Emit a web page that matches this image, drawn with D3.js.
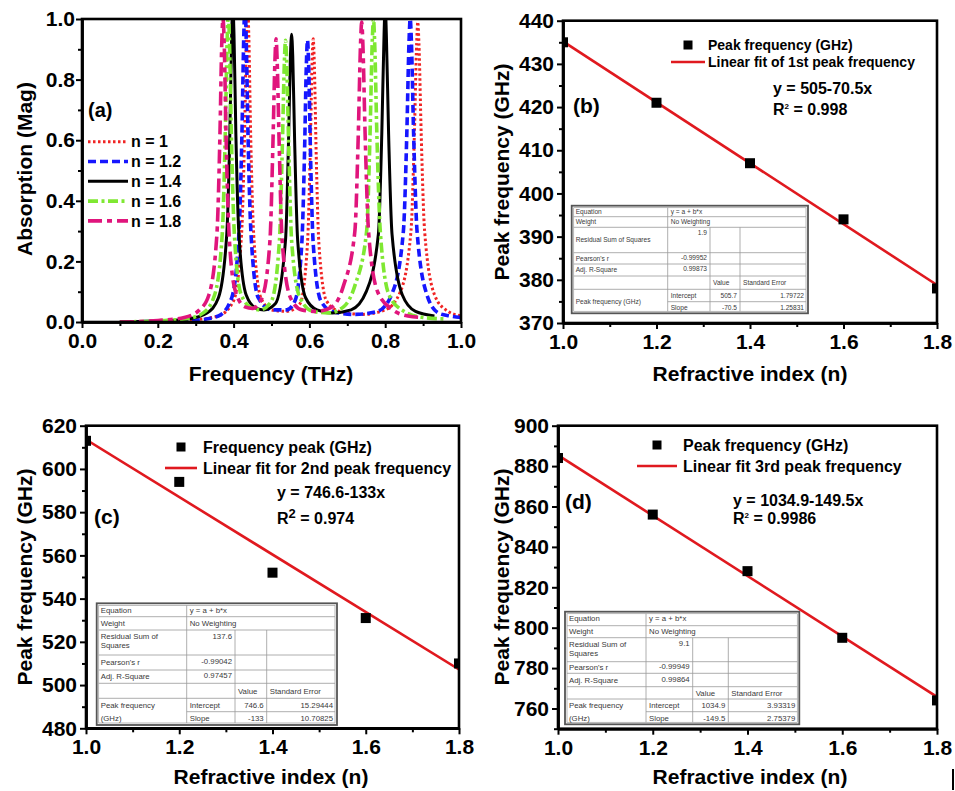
<!DOCTYPE html>
<html lang="en">
<head>
<meta charset="UTF-8">
<title>Absorption and peak frequency vs refractive index</title>
<script src="https://cdn.jsdelivr.net/npm/d3@7"></script>
<style>
    body {margin: 0; background: #fff;}
    svg {font-family: "Liberation Sans", Arial, sans-serif;}
    .axis path, .axis line {stroke: #000;}
    .axis path {stroke-width: 2.5;}
    .axis line {stroke-width: 2;}
    .axis text {font-size: 21px; font-weight: bold; fill: #000; font-family: "Liberation Sans", Arial, sans-serif;}
    .title {font-size: 21px; font-weight: bold; fill: #000;}
    .tbl text {fill: #3a3a3a;}
</style>
</head>
<body>
<script>
    // ---------- panel (a): absorption spectra, [frequency (THz), absorption] ----------
    const specN10 = [[0.10,0.0],[0.20,0.003],[0.30,0.008],[0.36,0.02],[0.40,0.07],[0.421,0.29],[0.429,0.62],[0.434,0.95],[0.437,1.05],[0.440,0.95],[0.445,0.62],[0.453,0.29],[0.472,0.08],[0.50,0.04],[0.54,0.035],[0.575,0.06],[0.595,0.26],[0.602,0.55],[0.607,0.85],[0.610,0.935],[0.613,0.85],[0.618,0.55],[0.625,0.26],[0.645,0.07],[0.68,0.035],[0.74,0.025],[0.80,0.04],[0.84,0.1],[0.868,0.3],[0.877,0.62],[0.883,0.92],[0.886,0.99],[0.889,0.92],[0.895,0.62],[0.904,0.3],[0.93,0.09],[0.96,0.04],[1.0,0.02]];
    const specN12 = [[0.10,0.0],[0.20,0.002],[0.30,0.006],[0.36,0.02],[0.395,0.08],[0.414,0.29],[0.422,0.62],[0.427,0.95],[0.430,1.05],[0.433,0.95],[0.438,0.62],[0.446,0.29],[0.465,0.08],[0.50,0.04],[0.54,0.04],[0.562,0.07],[0.580,0.26],[0.587,0.55],[0.592,0.85],[0.595,0.93],[0.598,0.85],[0.603,0.55],[0.610,0.26],[0.63,0.07],[0.66,0.035],[0.72,0.025],[0.78,0.035],[0.82,0.1],[0.848,0.3],[0.857,0.62],[0.863,0.93],[0.866,1.0],[0.869,0.93],[0.875,0.62],[0.884,0.3],[0.91,0.09],[0.94,0.03],[0.97,0.02],[1.0,0.015]];
    const specN14 = [[0.10,0.0],[0.20,0.003],[0.28,0.01],[0.33,0.03],[0.36,0.08],[0.382,0.29],[0.390,0.62],[0.395,0.95],[0.398,1.05],[0.401,0.95],[0.406,0.62],[0.414,0.29],[0.433,0.09],[0.46,0.045],[0.48,0.04],[0.51,0.06],[0.537,0.27],[0.545,0.6],[0.550,0.88],[0.553,0.95],[0.556,0.88],[0.561,0.6],[0.569,0.27],[0.59,0.08],[0.62,0.04],[0.66,0.03],[0.71,0.04],[0.75,0.1],[0.782,0.29],[0.791,0.62],[0.797,0.95],[0.800,1.05],[0.803,0.95],[0.809,0.62],[0.818,0.29],[0.845,0.09],[0.88,0.035],[0.93,0.02]];
    const specN16 = [[0.10,0.0],[0.20,0.004],[0.28,0.012],[0.32,0.03],[0.35,0.09],[0.370,0.29],[0.378,0.62],[0.383,0.93],[0.386,1.02],[0.389,0.93],[0.394,0.62],[0.402,0.29],[0.42,0.09],[0.45,0.045],[0.47,0.04],[0.50,0.07],[0.521,0.27],[0.529,0.6],[0.534,0.86],[0.537,0.93],[0.540,0.86],[0.545,0.6],[0.553,0.27],[0.575,0.08],[0.61,0.035],[0.65,0.03],[0.69,0.05],[0.72,0.12],[0.751,0.3],[0.760,0.62],[0.766,0.93],[0.769,1.0],[0.772,0.93],[0.778,0.62],[0.787,0.3],[0.81,0.09],[0.85,0.035],[0.90,0.015],[0.96,0.01]];
    const specN18 = [[0.10,0.0],[0.20,0.005],[0.27,0.015],[0.31,0.04],[0.335,0.09],[0.356,0.29],[0.364,0.62],[0.369,0.93],[0.372,1.0],[0.375,0.93],[0.380,0.62],[0.388,0.29],[0.405,0.1],[0.43,0.05],[0.45,0.045],[0.475,0.08],[0.496,0.27],[0.504,0.6],[0.509,0.86],[0.512,0.935],[0.515,0.86],[0.520,0.6],[0.528,0.27],[0.55,0.08],[0.58,0.04],[0.62,0.035],[0.66,0.05],[0.69,0.12],[0.720,0.3],[0.729,0.62],[0.735,0.92],[0.738,0.99],[0.741,0.92],[0.747,0.62],[0.756,0.3],[0.78,0.1],[0.82,0.04],[0.86,0.02],[0.90,0.015]];
    const spectra = [specN10, specN12, specN14, specN16, specN18];
    const specNames = ["n = 1", "n = 1.2", "n = 1.4", "n = 1.6", "n = 1.8"];
    const specColors = ["#f02424", "#1616ff", "#000000", "#7fe832", "#e0157c"];
    const specDash = ["2.5,2.5", "8,4", null, "10,3.5,3,3.5", "14,5,5,5"];
    const specWidth = [3, 3.6, 3, 3.6, 3.6];
    const unitTicks = [0, 0.2, 0.4, 0.6, 0.8, 1.0];
    const unitMinor = [0.1, 0.3, 0.5, 0.7, 0.9];

    // ---------- panels (b)-(d): peak frequency (GHz) vs refractive index ----------
    const refIndex = [1.0, 1.2, 1.4, 1.6, 1.8];
    const nTicks = [1.0, 1.2, 1.4, 1.6, 1.8];
    const nMinor = [1.1, 1.3, 1.5, 1.7];
    const peak1 = [435, 421, 407, 394, 378];
    const peak2 = [613, 594, 552, 531, 510];
    const peak3 = [884, 856, 828, 795, 764];
    const fitIntercept = [505.7, 746.6, 1034.9];
    const fitSlope = [-70.5, -133, -149.5];
    const tblB = ["1.9", "-0.99952", "0.99873", "505.7", "1.79722", "-70.5", "1.25831"];
    const tblC = ["137.6", "-0.99042", "0.97457", "746.6", "15.29444", "-133", "10.70825"];
    const tblD = ["9.1", "-0.99949", "0.99864", "1034.9", "3.93319", "-149.5", "2.75379"];

    const width = 955, height = 791;
    const svg = d3.select("body").append("svg").attr("width", width).attr("height", height);
    const defs = svg.append("defs");
    const fmt1 = d3.format(".1f");

    function axes(g, x, y, xt, xm, yt, ym, fx, fy, ypad) {
        const [x0, x1] = x.range(), [y1, y0] = y.range();
        g.append("g").attr("class", "axis").attr("transform", `translate(0,${y1})`)
            .call(d3.axisBottom(x).tickValues(xm).tickSize(4).tickSizeOuter(0).tickFormat(""));
        g.append("g").attr("class", "axis").attr("transform", `translate(0,${y1})`)
            .call(d3.axisBottom(x).tickValues(xt).tickSize(6).tickSizeOuter(0).tickPadding(5).tickFormat(fx));
        g.append("g").attr("class", "axis").attr("transform", `translate(${x0},0)`)
            .call(d3.axisLeft(y).tickValues(ym).tickSize(4).tickSizeOuter(0).tickFormat(""));
        g.append("g").attr("class", "axis").attr("transform", `translate(${x0},0)`)
            .call(d3.axisLeft(y).tickValues(yt).tickSize(6).tickSizeOuter(0).tickPadding(ypad).tickFormat(fy));
        g.append("rect").attr("x", x0).attr("y", y0).attr("width", x1 - x0).attr("height", y1 - y0)
            .attr("fill", "none").attr("stroke", "#000").attr("stroke-width", 2.6);
    }

    function clip(id, x, y) {
        const [x0, x1] = x.range(), [y1, y0] = y.range();
        defs.append("clipPath").attr("id", id).append("rect")
            .attr("x", x0).attr("y", y0).attr("width", x1 - x0).attr("height", y1 - y0);
        return `url(#${id})`;
    }

    function text(g, x, y, s, size, weight, anchor) {
        return g.append("text").attr("x", x).attr("y", y).attr("dy", "0.35em")
            .attr("font-size", size).attr("font-weight", weight || "bold")
            .attr("text-anchor", anchor || "start").text(s);
    }

    function vtitle(g, cx, cy, s, size) {
        g.append("text").attr("class", "title").attr("font-size", size)
            .attr("transform", `translate(${cx},${cy}) rotate(-90)`)
            .attr("text-anchor", "middle").attr("dy", "0.35em").text(s);
    }

    // ---------- panel (a) ----------
    {
        const g = svg.append("g");
        const x = d3.scaleLinear().domain([0, 1]).range([82, 461]);
        const y = d3.scaleLinear().domain([0, 1]).range([322, 19]);
        const cp = clip("clipA", x, y);
        const line = d3.line().x(d => x(d[0])).y(d => y(d[1])).curve(d3.curveMonotoneX);
        spectra.forEach((s, i) => {
            g.append("path").datum(s).attr("d", line).attr("clip-path", cp)
                .attr("fill", "none").attr("stroke", specColors[i]).attr("stroke-width", specWidth[i])
                .attr("stroke-dasharray", specDash[i]);
        });
        axes(g, x, y, unitTicks, unitMinor, unitTicks, unitMinor, fmt1, fmt1, 1);
        text(g, 88, 110, "(a)", 20);
        specNames.forEach((nm, i) => {
            const ly = 141.7 + 19.8 * i;
            g.append("line").attr("x1", 88).attr("x2", 128).attr("y1", ly).attr("y2", ly)
                .attr("stroke", specColors[i]).attr("stroke-width", specWidth[i])
                .attr("stroke-dasharray", specDash[i]);
            text(g, 131, ly, nm, 16);
        });
        g.append("text").attr("class", "title").attr("x", 271).attr("y", 381)
            .attr("text-anchor", "middle").text("Frequency (THz)");
        vtitle(g, 25, 169, "Absorption (Mag)", 21);
    }

    // ---------- table of fit results ----------
    function table(g, xs, ys, v, fs, wrap) {
        const t = g.append("g").attr("class", "tbl").attr("font-size", fs);
        t.append("rect").attr("x", xs[0]).attr("y", ys[0]).attr("width", xs[4] - xs[0]).attr("height", ys[8] - ys[0])
            .attr("fill", "#fff").attr("stroke", "#555").attr("stroke-width", 1.8);
        t.append("rect").attr("x", xs[0] + 2).attr("y", ys[0] + 2).attr("width", xs[4] - xs[0] - 4).attr("height", ys[8] - ys[0] - 4)
            .attr("fill", "none").attr("stroke", "#999").attr("stroke-width", 0.7);
        const ln = (a, b, c, d) => t.append("line").attr("x1", a).attr("y1", b).attr("x2", c).attr("y2", d)
            .attr("stroke", "#999").attr("stroke-width", 0.8);
        for (let r = 1; r < 8; r++) ln(r === 7 ? xs[1] : xs[0] + 2, ys[r], xs[4] - 2, ys[r]);
        ln(xs[1], ys[0] + 2, xs[1], ys[8] - 2);
        ln(xs[2], ys[2], xs[2], ys[8] - 2);
        ln(xs[3], ys[2], xs[3], ys[8] - 2);
        const mid = r => (ys[r] + ys[r + 1]) / 2;
        const tx = (x, yy, s, anchor) => t.append("text").attr("x", x).attr("y", yy).attr("dy", "0.35em")
            .attr("text-anchor", anchor || "start").text(s);
        const L = xs[0] + 4;
        tx(L, mid(0), "Equation"); tx(xs[1] + 3, mid(0), "y = a + b*x");
        tx(L, mid(1), "Weight"); tx(xs[1] + 3, mid(1), "No Weighting");
        if (wrap) {
            tx(L, ys[2] + fs * 0.8, "Residual Sum of"); tx(L, ys[2] + fs * 2.0, "Squares");
        } else {
            tx(L, mid(2), "Residual Sum of Squares");
        }
        tx(xs[2] - 3, ys[2] + fs * 0.75, v[0], "end");
        tx(L, mid(3), "Pearson's r"); tx(xs[2] - 3, mid(3) - 1, v[1], "end");
        tx(L, mid(4), "Adj. R-Square"); tx(xs[2] - 3, mid(4) - 1, v[2], "end");
        tx(xs[2] + 3, mid(5), "Value"); tx(xs[3] + 3, mid(5), "Standard Error");
        if (wrap) {
            tx(L, mid(6), "Peak frequency"); tx(L, mid(7), "(GHz)");
        } else {
            tx(L, ys[7], "Peak frequency (GHz)");
        }
        tx(xs[1] + 3, mid(6), "Intercept"); tx(xs[3] - 3, mid(6), v[3], "end"); tx(xs[4] - 4, mid(6), v[4], "end");
        tx(xs[1] + 3, mid(7), "Slope"); tx(xs[3] - 3, mid(7), v[5], "end"); tx(xs[4] - 4, mid(7), v[6], "end");
    }

    // ---------- panels (b), (c), (d) ----------
    const panels = [
        {id: "B", xr: [563, 937], yr: [323, 20.7], dom: [370, 440], yt: d3.range(370, 441, 10), ym: d3.range(375, 440, 10),
         vals: peak1, fit: 0, tag: "(b)", tagPos: [573, 106], tcx: 502, tcy: 172, txc: 750, txy: 381,
         legFs: 14, sq: [688, 45], lg: [671, 705, 62], lt: 708,
         leg1: "Peak frequency (GHz)", leg2: "Linear fit of 1st peak frequency",
         eq: "y = 505-70.5x", r2: "0.998", eqPos: [773, 88, 109], big2: false,
         tx: [571.7, 667.7, 710, 740, 808], ty: [205.7, 216.7, 227.3, 252.7, 264, 276, 289.3, 301.7, 313.3], tv: tblB, tfs: 6.6, wrap: false},
        {id: "C", xr: [86, 459], yr: [728.3, 425.7], dom: [480, 620], yt: d3.range(480, 621, 20), ym: d3.range(490, 620, 20),
         vals: peak2, fit: 1, tag: "(c)", tagPos: [94, 517], tcx: 25, tcy: 577, txc: 271, txy: 784,
         legFs: 16, sq: [181, 447], lg: [165, 197, 468], lt: 203,
         leg1: "Frequency peak (GHz)", leg2: "Linear fit for 2nd peak frequency",
         eq: "y = 746.6-133x", r2: "0.974", eqPos: [277, 492, 518], big2: true,
         tx: [96.7, 186.7, 235, 266.7, 337], ty: [603.3, 616.7, 630, 655, 670, 683.3, 698.3, 711.7, 725], tv: tblC, tfs: 7.8, wrap: true},
        {id: "D", xr: [558, 937], yr: [728.7, 425.7], dom: [750, 900], yt: d3.range(760, 901, 20), ym: d3.range(750, 900, 20),
         vals: peak3, fit: 2, tag: "(d)", tagPos: [565, 502], tcx: 502, tcy: 577, txc: 750, txy: 784,
         legFs: 16, sq: [657, 445], lg: [637, 677, 466], lt: 683,
         leg1: "Peak frequency (GHz)", leg2: "Linear fit 3rd peak frequency",
         eq: "y = 1034.9-149.5x", r2: "0.9986", eqPos: [733, 500, 518], big2: false,
         tx: [565, 646, 692.7, 728.3, 799.3], ty: [611.7, 625.7, 637.7, 661.7, 673.3, 686.7, 699, 711.7, 724.3], tv: tblD, tfs: 7.8, wrap: true}
    ];

    panels.forEach(p => {
        const g = svg.append("g");
        const x = d3.scaleLinear().domain([1.0, 1.8]).range(p.xr);
        const y = d3.scaleLinear().domain(p.dom).range(p.yr);
        const cp = clip("clip" + p.id, x, y);

        table(g, p.tx, p.ty, p.tv, p.tfs, p.wrap);

        const a = fitIntercept[p.fit], b = fitSlope[p.fit];
        g.append("line").attr("clip-path", cp)
            .attr("x1", x(1.0)).attr("y1", y(a + b * 1.0)).attr("x2", x(1.8)).attr("y2", y(a + b * 1.8))
            .attr("stroke", "#e0191f").attr("stroke-width", 2.6);

        g.selectAll("rect.pt").data(refIndex).enter().append("rect").attr("class", "pt")
            .attr("clip-path", cp)
            .attr("x", d => x(d) - 5).attr("y", (d, i) => y(p.vals[i]) - 5)
            .attr("width", 10).attr("height", 10).attr("fill", "#000");

        axes(g, x, y, nTicks, nMinor, p.yt, p.ym, fmt1, d3.format("d"), 3);

        // legend
        g.append("rect").attr("x", p.sq[0] - 4.5).attr("y", p.sq[1] - 4.5).attr("width", 9).attr("height", 9).attr("fill", "#000");
        text(g, p.lt, p.sq[1], p.leg1, p.legFs);
        g.append("line").attr("x1", p.lg[0]).attr("x2", p.lg[1]).attr("y1", p.lg[2]).attr("y2", p.lg[2])
            .attr("stroke", "#e0191f").attr("stroke-width", 2.6);
        text(g, p.lt, p.lg[2], p.leg2, p.legFs);

        text(g, p.eqPos[0], p.eqPos[1], p.eq, 16);
        const r = text(g, p.eqPos[0], p.eqPos[2], "R", 16);
        r.append("tspan").attr("font-size", p.big2 ? 13 : 8).attr("baseline-shift", p.big2 ? "45%" : "80%").text("2");
        r.append("tspan").text(" = " + p.r2);

        text(g, p.tagPos[0], p.tagPos[1], p.tag, 21);
        g.append("text").attr("class", "title").attr("x", p.txc).attr("y", p.txy)
            .attr("text-anchor", "middle").text("Refractive index (n)");
        vtitle(g, p.tcx, p.tcy, "Peak frequency (GHz)", 27);
    });

    // small stray mark at the lower right of the figure
    svg.append("line").attr("x1", 953).attr("x2", 953).attr("y1", 769).attr("y2", 790)
        .attr("stroke", "#000").attr("stroke-width", 2);
</script>
</body>
</html>
